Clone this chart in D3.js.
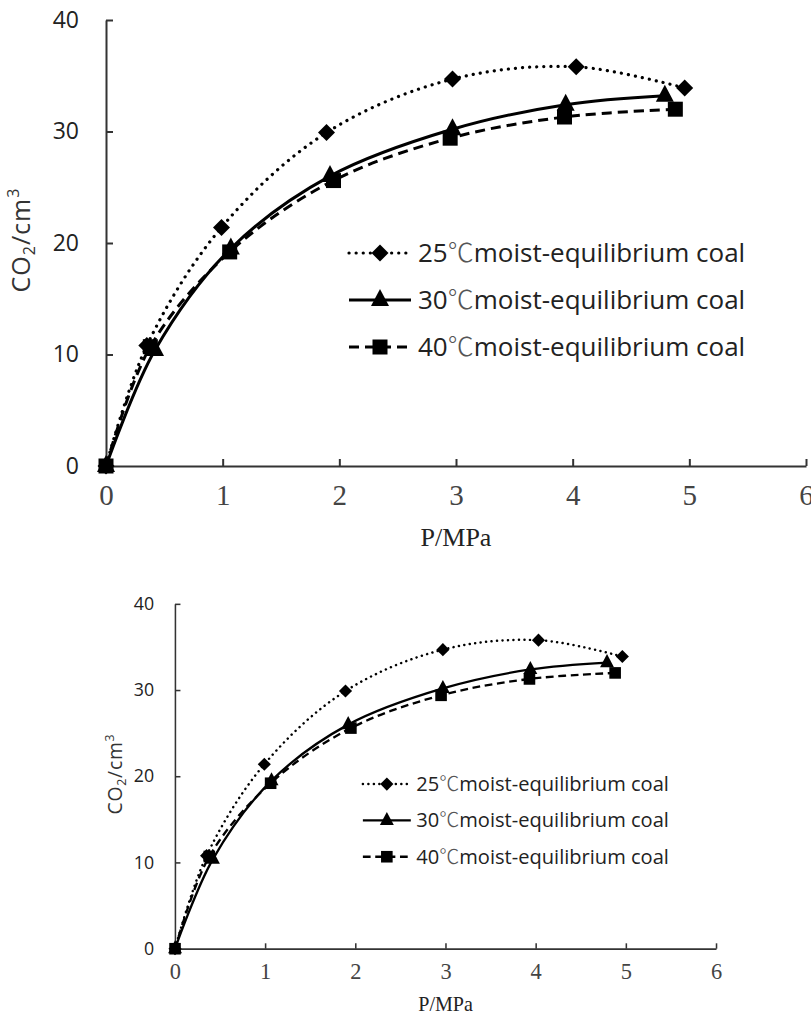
<!DOCTYPE html>
<html>
<head>
<meta charset="utf-8">
<script src="https://cdn.jsdelivr.net/npm/d3@7"></script>
<style>
  body { margin: 0; background: #fff; }
  svg { display: block; }
</style>
</head>
<body>
<svg id="chart" width="811" height="1018"></svg>
<script>
// ---- data ----
const seriesNames = ["25℃moist-equilibrium coal", "30℃moist-equilibrium coal", "40℃moist-equilibrium coal"];
const p25 = [0, 0.35, 0.99, 1.89, 2.97, 4.03, 4.96];
const v25 = [0, 10.8, 21.4, 29.9, 34.7, 35.8, 33.9];
const p30 = [0, 0.42, 1.07, 1.92, 2.97, 3.94, 4.79];
const v30 = [0, 10.4, 19.5, 26.0, 30.2, 32.4, 33.2];
const p40 = [0, 0.38, 1.06, 1.95, 2.95, 3.93, 4.88];
const v40 = [0, 10.7, 19.2, 25.6, 29.4, 31.3, 32.0];
const xTicks = [0, 1, 2, 3, 4, 5, 6];
const yTicks = [0, 10, 20, 30, 40];
const xLabel = "P/MPa";

const series = [
  { name: seriesNames[0], p: p25, v: v25, dash: "0.1,7", width: 3.2, cap: "round", symbol: "diamond" },
  { name: seriesNames[1], p: p30, v: v30, dash: null, width: 3, cap: "butt", symbol: "triangle" },
  { name: seriesNames[2], p: p40, v: v40, dash: "10,6", width: 3, cap: "butt", symbol: "square" }
];

const svg = d3.select("#chart");

function marker(g, type, x, y) {
  if (type === "diamond") {
    g.append("path").attr("d", `M${x},${y-8.5}L${x+8.5},${y}L${x},${y+8.5}L${x-8.5},${y}Z`).attr("fill", "#000");
  } else if (type === "triangle") {
    g.append("path").attr("d", `M${x},${y-11}L${x+9},${y+6}L${x-9},${y+6}Z`).attr("fill", "#000");
  } else {
    g.append("rect").attr("x", x-7.5).attr("y", y-7.5).attr("width", 15).attr("height", 15).attr("fill", "#000");
  }
}

function drawChart(tx, ty, k, yLabelX) {
  const g = svg.append("g").attr("transform", `translate(${tx},${ty}) scale(${k})`);
  const x = d3.scaleLinear().domain([0, 6]).range([106, 806]);
  const y = d3.scaleLinear().domain([0, 40]).range([466, 20]);

  // y axis
  const ya = g.append("g").attr("transform", `translate(${x(0)},0)`)
    .call(d3.axisLeft(y).tickValues(yTicks).tickSizeInner(-7).tickSizeOuter(0).tickPadding(27).tickFormat(d3.format("d")));
  ya.attr("font-family", null).attr("font-size", null);
  ya.select(".domain").attr("stroke", "#333").attr("stroke-width", 2);
  ya.selectAll(".tick line").attr("stroke", "#333").attr("stroke-width", 2);
  ya.selectAll(".tick text").style("font-family", "'Open Sans', sans-serif").style("font-size", "23px").attr("fill", "#222");

  // x axis
  const xa = g.append("g").attr("transform", `translate(0,${y(0)})`)
    .call(d3.axisBottom(x).tickValues(xTicks).tickSizeInner(-7).tickSizeOuter(0).tickPadding(18).tickFormat(d3.format("d")));
  xa.attr("font-family", null).attr("font-size", null);
  xa.select(".domain").attr("stroke", "#333").attr("stroke-width", 2);
  xa.selectAll(".tick line").attr("stroke", "#333").attr("stroke-width", 2);
  xa.selectAll(".tick text").style("font-family", "'Liberation Serif', 'DejaVu Serif', serif").style("font-size", "29px").attr("fill", "#444");

  // x label
  g.append("text").attr("x", (x(0) + x(6)) / 2).attr("y", 546).attr("text-anchor", "middle")
    .style("font-family", "'Liberation Serif', serif").style("font-size", "26px").attr("fill", "#222").text(xLabel);

  // y label
  const yl = g.append("text").attr("transform", `translate(${yLabelX},240) rotate(-90)`).attr("text-anchor", "middle")
    .style("font-family", "'Open Sans', sans-serif").style("font-size", "25px").style("letter-spacing", "1px").attr("fill", "#333");
  yl.append("tspan").text("CO");
  yl.append("tspan").style("font-size", "16px").attr("dy", 5).text("2");
  yl.append("tspan").attr("dy", -5).text("/cm");
  yl.append("tspan").style("font-size", "16px").attr("dy", -11).text("3");

  // lines
  series.forEach(s => {
    const pts = s.p.map((p, i) => [x(p), y(s.v[i])]);
    const line = d3.line().curve(d3.curveCatmullRom.alpha(0.5));
    g.append("path").attr("d", line(pts)).attr("fill", "none").attr("stroke", "#000")
      .attr("stroke-width", s.width).attr("stroke-dasharray", s.dash).attr("stroke-linecap", s.cap);
  });
  // markers
  series.forEach(s => {
    s.p.forEach((p, i) => marker(g, s.symbol, x(p), y(s.v[i])));
  });

  // legend
  const rows = [253, 300, 347];
  series.forEach((s, i) => {
    const ly = rows[i];
    g.append("line").attr("x1", 349).attr("x2", 411).attr("y1", ly).attr("y2", ly)
      .attr("stroke", "#000").attr("stroke-width", s.width).attr("stroke-dasharray", s.dash).attr("stroke-linecap", s.cap);
    marker(g, s.symbol, 380, ly);
    const t = g.append("text").attr("x", 418).attr("y", ly + 9)
      .style("font-family", "'Open Sans', sans-serif").style("font-size", "26px").attr("fill", "#222");
    const idx = s.name.indexOf("℃");
    t.append("tspan").text(s.name.slice(0, idx));
    t.append("tspan").style("font-family", "'Noto Sans CJK SC', sans-serif").style("font-weight", 300).attr("fill", "#555").text("℃");
    t.append("tspan").text(s.name.slice(idx + 1));
  });
}

drawChart(0, 0, 1, 30);
drawChart(93.1, 588.5, 0.773, 38);
</script>
</body>
</html>
